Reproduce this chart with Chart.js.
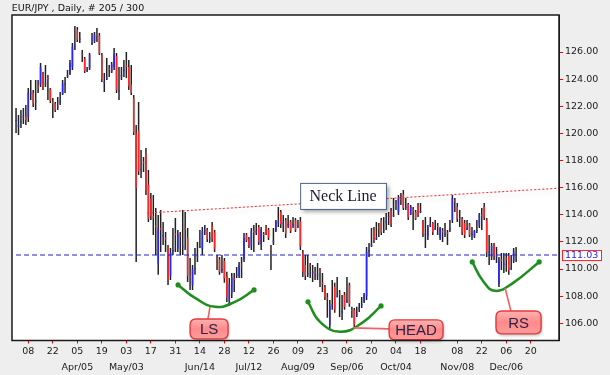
<!DOCTYPE html>
<html>
<head>
<meta charset="utf-8">
<script src="https://cdn.jsdelivr.net/npm/chart.js@4.4.1/dist/chart.umd.min.js"></script>
<style>
  html, body { margin: 0; padding: 0; background: #eeeeee; }
  #wrap { width: 610px; height: 375px; }
</style>
</head>
<body>
<div id="wrap"><canvas id="chart" width="610" height="375"></canvas></div>
<script>
// daily bars, EUR/JPY, index 0 = 1 Mar (trading days)
const highs = [
  121.87, 121.36, 121.72, 121.87, 122.09, 123.35, 123.93, 123.20, 123.93, 123.93,
  125.19, 124.52, 125.04, 124.30, 123.35, 122.61, 122.31, 122.68, 123.05, 123.93,
  124.16, 124.67, 125.41, 126.66, 127.91, 127.84, 127.47, 126.15, 125.63, 124.89,
  125.92, 127.40, 127.47, 127.77, 127.40, 125.92, 124.45, 125.56, 125.04, 125.26,
  126.29, 125.92, 124.89, 124.89, 125.41, 126.00, 125.41, 125.04, 122.83, 120.62,
  122.31, 118.78, 118.26, 118.92, 117.30, 115.61, 115.46, 114.50, 113.99, 114.35,
  113.47, 112.73, 111.77, 111.55, 113.03, 113.77, 112.88, 112.73, 114.35, 114.21,
  113.03, 110.82, 110.30, 111.55, 111.99, 112.88, 113.10, 113.25, 113.03, 112.73,
  113.47, 112.88, 111.04, 110.89, 111.04, 110.82, 109.79, 109.34, 109.71, 109.71,
  110.15, 110.52, 110.89, 112.66, 112.66, 112.37, 113.03, 113.25, 113.40, 113.25,
  113.10, 112.73, 113.25, 113.03, 111.77, 113.03, 113.62, 114.58, 114.35, 113.99,
  113.77, 113.99, 113.62, 113.84, 113.77, 113.62, 113.84, 111.41, 111.04, 111.04,
  110.45, 110.30, 110.15, 110.45, 110.08, 109.71, 108.83, 108.24, 107.72, 109.20,
  108.98, 109.42, 108.46, 108.09, 108.31, 109.42, 108.98, 107.21, 107.13, 107.21,
  107.50, 107.94, 108.24, 111.63, 111.92, 113.03, 113.10, 113.47, 113.40, 113.77,
  113.84, 114.13, 114.21, 114.50, 115.24, 115.09, 115.46, 115.61, 115.83, 115.24,
  114.87, 114.72, 114.58, 114.35, 114.87, 114.87, 113.62, 113.84, 113.25, 113.84,
  113.47, 113.62, 113.40, 113.10, 113.03, 113.40, 112.88, 113.62, 115.46, 115.24,
  114.87, 114.35, 113.84, 113.62, 113.62, 113.40, 113.10, 112.88, 113.62, 114.13,
  114.50, 114.87, 113.77, 112.51, 111.92, 111.92, 111.63, 110.89, 111.19, 111.19,
  111.19, 111.19, 111.04, 111.55, 111.63
];
const lows = [
  120.03, 119.88, 120.40, 120.69, 120.62, 120.84, 122.46, 121.95, 121.72, 122.98,
  123.42, 123.20, 123.42, 122.46, 122.24, 121.13, 121.58, 121.72, 122.09, 122.83,
  122.98, 124.08, 124.30, 124.67, 126.15, 126.74, 126.66, 125.26, 124.45, 124.52,
  124.67, 126.51, 126.66, 126.74, 125.78, 123.79, 123.05, 123.93, 124.16, 124.45,
  124.67, 122.98, 122.46, 123.93, 124.16, 124.08, 123.20, 122.83, 119.88, 110.52,
  116.93, 116.71, 117.15, 115.46, 113.47, 113.62, 112.51, 111.04, 109.57, 111.26,
  111.77, 111.26, 108.83, 109.20, 111.04, 111.26, 111.26, 111.04, 111.04, 111.41,
  109.05, 108.46, 108.46, 109.57, 110.52, 111.55, 111.04, 112.51, 111.99, 111.92,
  111.99, 111.26, 109.93, 109.57, 109.71, 108.98, 107.57, 107.28, 107.87, 108.31,
  109.34, 109.34, 109.34, 110.52, 111.99, 111.55, 111.41, 111.26, 112.51, 111.77,
  111.41, 111.99, 112.51, 112.14, 109.93, 111.77, 112.73, 113.10, 113.03, 112.73,
  112.29, 113.03, 112.66, 113.03, 112.73, 113.03, 111.41, 109.42, 109.20, 109.42,
  109.34, 109.05, 109.20, 109.20, 108.68, 108.31, 107.72, 106.40, 105.51, 106.99,
  106.77, 107.94, 106.47, 106.25, 106.99, 107.50, 107.21, 106.40, 105.66, 106.47,
  106.84, 107.13, 107.50, 107.72, 110.89, 111.63, 111.92, 112.14, 112.37, 112.51,
  112.66, 112.88, 113.25, 113.10, 113.84, 114.35, 113.99, 114.72, 114.35, 114.35,
  113.62, 113.99, 112.88, 113.62, 113.84, 114.13, 112.37, 111.55, 112.14, 113.10,
  112.51, 112.88, 112.51, 112.14, 111.99, 112.37, 111.77, 112.73, 113.40, 114.21,
  113.47, 113.10, 112.51, 112.29, 112.88, 112.37, 112.14, 112.29, 112.66, 113.03,
  112.88, 113.62, 110.89, 110.30, 110.67, 110.67, 110.45, 108.68, 109.93, 109.71,
  109.79, 109.57, 109.93, 110.45, 110.52
];
const opens = [
  120.9, 120.5, 120.8, 121.2, 121.3, 121.2, 122.9, 123.0, 122.3, 123.5,
  123.6, 124.4, 123.6, 124.1, 123.3, 122.3, 122.2, 121.9, 122.3, 122.9,
  123.6, 124.2, 124.4, 124.9, 126.4, 127.6, 126.9, 125.9, 125.5, 124.6,
  124.8, 126.6, 126.8, 127.3, 127.2, 125.8, 123.7, 124.0, 124.8, 124.5,
  124.9, 125.7, 123.1, 124.2, 124.6, 125.0, 124.9, 123.6, 122.6, 120.0,
  120.2, 117.3, 117.9, 118.5, 116.2, 115.2, 113.9, 113.2, 110.4, 113.0,
  112.4, 112.3, 111.6, 109.5, 111.3, 112.6, 111.5, 112.5, 111.6, 113.0,
  112.3, 109.5, 108.8, 110.0, 110.9, 111.6, 111.5, 112.8, 112.9, 112.2,
  113.2, 112.7, 110.8, 110.7, 109.9, 110.6, 109.5, 107.6, 108.2, 109.3,
  109.5, 109.5, 110.3, 110.7, 112.5, 112.2, 111.7, 112.8, 112.7, 113.1,
  111.8, 112.6, 113.1, 112.9, 111.5, 112.0, 112.8, 113.4, 114.2, 113.3,
  113.6, 113.2, 113.5, 113.2, 113.6, 113.1, 113.5, 111.2, 110.3, 109.6,
  110.3, 109.7, 109.8, 109.5, 109.9, 109.0, 108.7, 107.9, 105.9, 107.3,
  108.7, 107.9, 108.2, 106.8, 108.1, 107.6, 108.8, 107.0, 107.0, 106.6,
  107.0, 107.3, 107.6, 108.0, 111.3, 111.7, 112.9, 112.2, 113.1, 113.6,
  112.8, 113.4, 113.8, 114.3, 113.9, 114.8, 114.2, 115.2, 115.5, 114.5,
  114.8, 114.0, 114.4, 114.2, 114.7, 114.2, 113.5, 112.5, 112.4, 113.2,
  113.4, 112.9, 113.2, 112.3, 112.8, 112.5, 112.7, 112.9, 113.6, 115.1,
  114.6, 113.7, 113.7, 113.4, 112.9, 113.3, 112.5, 112.4, 112.8, 113.2,
  114.0, 114.6, 113.6, 111.2, 110.9, 111.8, 110.9, 108.9, 110.7, 110.3,
  110.8, 111.0, 110.0, 110.6, 111.1
];
const closes = [
  121.0, 120.6, 120.9, 121.3, 121.0, 123.0, 123.0, 122.2, 122.4, 123.4,
  124.9, 123.4, 123.7, 124.0, 122.4, 122.2, 121.7, 122.0, 122.4, 123.7,
  123.7, 124.3, 125.2, 126.4, 126.5, 126.9, 127.0, 125.8, 124.6, 124.7,
  125.8, 126.7, 127.3, 127.2, 125.9, 124.0, 123.8, 124.1, 124.7, 125.1,
  125.9, 123.2, 123.2, 124.3, 124.7, 124.9, 123.5, 123.0, 120.1, 116.0,
  117.2, 117.4, 117.8, 115.8, 113.7, 113.9, 113.8, 113.1, 113.0, 112.9,
  112.5, 112.2, 109.2, 111.2, 111.4, 112.5, 112.6, 112.4, 111.7, 112.9,
  109.5, 109.4, 110.0, 110.1, 111.0, 111.7, 112.8, 112.9, 112.2, 112.3,
  112.2, 111.5, 110.7, 109.8, 110.0, 109.3, 107.9, 108.9, 109.4, 109.2,
  109.6, 110.3, 110.2, 112.3, 112.1, 111.7, 112.8, 112.7, 112.8, 112.0,
  112.9, 112.5, 112.6, 112.3, 111.4, 112.1, 113.5, 113.5, 113.3, 113.4,
  112.6, 113.3, 112.8, 113.3, 112.9, 113.2, 111.7, 109.8, 109.5, 109.7,
  110.2, 109.8, 109.7, 109.6, 109.8, 108.9, 107.9, 107.8, 107.3, 107.4,
  107.0, 108.0, 108.1, 106.9, 107.2, 107.7, 107.4, 106.9, 105.9, 106.7,
  107.1, 107.4, 108.1, 111.3, 111.4, 111.8, 112.1, 112.3, 113.0, 112.7,
  112.9, 113.5, 113.9, 113.3, 114.0, 114.7, 115.2, 115.1, 114.5, 114.6,
  113.8, 114.6, 114.3, 113.7, 114.0, 114.3, 112.6, 112.6, 113.1, 113.3,
  112.7, 113.0, 113.1, 113.0, 112.7, 112.6, 112.6, 113.0, 115.2, 115.0,
  113.7, 113.8, 112.7, 112.5, 113.0, 112.5, 112.6, 112.8, 112.9, 114.0,
  113.9, 113.8, 111.2, 111.3, 111.7, 110.9, 111.0, 110.7, 110.6, 110.4,
  110.7, 109.9, 110.1, 111.3, 111.03
];

const tickIdx = [5, 15, 25, 35, 45, 55, 65, 75, 85, 95, 105, 115, 125, 135, 145, 155, 165, 180, 190, 200, 210];
const tickDays = ['08', '22', '05', '19', '03', '17', '31', '14', '28', '12', '26', '09', '23', '06', '20', '04', '18', '08', '22', '06', '20'];
const tickMonths = ['', '', 'Apr/05', '', 'May/03', '', '', 'Jun/14', '', 'Jul/12', '', 'Aug/09', '', 'Sep/06', '', 'Oct/04', '', 'Nov/08', '', 'Dec/06', ''];
const priceTicks = [106, 108, 110, 112, 114, 116, 118, 120, 122, 124, 126];
const lastPrice = 111.03;

// pattern annotations (bar index, price)
const neckLine = [{ x: 53.4, y: 114.13 }, { x: 221.5, y: 115.96 }];
const lsCurve = [{ x: 66.1, y: 108.83 }, { x: 73.0, y: 107.87 }, { x: 81.2, y: 107.21 }, { x: 89.3, y: 107.58 }, { x: 97.1, y: 108.46 }];
const headCurve = [{ x: 119.1, y: 107.58 }, { x: 124.0, y: 106.10 }, { x: 132.2, y: 105.37 }, { x: 141.2, y: 106.03 }, { x: 148.9, y: 107.28 }];
const rsCurve = [{ x: 186.1, y: 110.52 }, { x: 190.5, y: 109.12 }, { x: 195.4, y: 108.39 }, { x: 202.8, y: 108.98 }, { x: 213.4, y: 110.52 }];

const callouts = [
  { text: 'LS', box: [71.0, 106.32, 86.5, 104.85], from: [79.1, 107.21], to: [78.3, 106.32] },
  { text: 'HEAD', box: [152.2, 106.25, 174.2, 104.78], from: [137.5, 105.66], to: [152.2, 105.59] },
  { text: 'RS', box: [195.8, 106.91, 214.2, 105.22], from: [199.5, 108.61], to: [201.9, 106.91] }
];
const neckLabel = { text: 'Neck Line', box: [115.9, 116.35, 150.9, 114.43] };

const X_MIN = -1.65;
const X_MAX = 221.5;
const RED = '#ff2626';
const BLUE = '#2626ff';
const GREEN = '#1e8e1e';
const AXIS_FONT = { family: '"DejaVu Sans", sans-serif', size: 9.5 };

function roundRect(ctx, x, y, w, h, r) {
  ctx.beginPath();
  ctx.moveTo(x + r, y);
  ctx.lineTo(x + w - r, y);
  ctx.quadraticCurveTo(x + w, y, x + w, y + r);
  ctx.lineTo(x + w, y + h - r);
  ctx.quadraticCurveTo(x + w, y + h, x + w - r, y + h);
  ctx.lineTo(x + r, y + h);
  ctx.quadraticCurveTo(x, y + h, x, y + h - r);
  ctx.lineTo(x, y + r);
  ctx.quadraticCurveTo(x, y, x + r, y);
  ctx.closePath();
}

const backdrop = {
  id: 'backdrop',
  beforeDraw(chart) {
    const { ctx, chartArea: a } = chart;
    ctx.save();
    ctx.fillStyle = '#eeeeee';
    ctx.fillRect(0, 0, chart.width, chart.height);
    ctx.fillStyle = '#ffffff';
    ctx.fillRect(a.left, a.top, a.right - a.left, a.bottom - a.top);
    ctx.restore();
  },
  beforeDatasetDraw(chart, args) {
    if (args.meta.label !== 'neck') return;
    const ctx = chart.ctx;
    ctx.save();
    ctx.shadowColor = 'rgba(0,0,0,0.16)';
    ctx.shadowBlur = 4;
    ctx.shadowOffsetY = 4;
  },
  afterDatasetDraw(chart, args) {
    if (args.meta.label === 'neck') chart.ctx.restore();
  },
  afterDatasetsDraw(chart) {
    const { ctx } = chart;
    const xs = chart.scales.x, ys = chart.scales.y;
    const px = v => xs.getPixelForValue(v);
    const py = v => ys.getPixelForValue(v);
    ctx.save();

    // neck line label
    const nb = neckLabel.box;
    const nx = px(nb[0]), ny = py(nb[1]), nw = px(nb[2]) - nx, nh = py(nb[3]) - ny;
    ctx.save();
    ctx.shadowColor = 'rgba(0,0,0,0.35)';
    ctx.shadowBlur = 4;
    ctx.shadowOffsetX = 3;
    ctx.shadowOffsetY = 3;
    ctx.fillStyle = '#ffffff';
    ctx.fillRect(nx, ny, nw, nh);
    ctx.restore();
    ctx.strokeStyle = '#4f6484';
    ctx.lineWidth = 1;
    ctx.strokeRect(nx + 0.5, ny + 0.5, nw, nh);
    ctx.fillStyle = '#1a1a2e';
    ctx.font = '16px "Liberation Serif", serif';
    ctx.textAlign = 'center';
    ctx.textBaseline = 'middle';
    ctx.fillText(neckLabel.text, nx + nw / 2, ny + nh / 2 + 1);

    // pattern callouts
    callouts.forEach(c => {
      ctx.strokeStyle = '#f06060';
      ctx.lineWidth = 1.6;
      ctx.beginPath();
      ctx.moveTo(px(c.from[0]), py(c.from[1]));
      ctx.lineTo(px(c.to[0]), py(c.to[1]));
      ctx.stroke();

      const bx = px(c.box[0]), by = py(c.box[1]);
      const bw = px(c.box[2]) - bx, bh = py(c.box[3]) - by;
      ctx.save();
      ctx.shadowColor = 'rgba(0,0,0,0.25)';
      ctx.shadowBlur = 3;
      ctx.shadowOffsetX = 1;
      ctx.shadowOffsetY = 2;
      const g = ctx.createLinearGradient(0, by, 0, by + bh);
      g.addColorStop(0, '#ffb3b3');
      g.addColorStop(0.5, '#ff8a8a');
      g.addColorStop(1, '#ff9c9c');
      ctx.fillStyle = g;
      roundRect(ctx, bx, by, bw, bh, 6);
      ctx.fill();
      ctx.restore();
      ctx.strokeStyle = '#e23a3a';
      ctx.lineWidth = 1.4;
      roundRect(ctx, bx, by, bw, bh, 6);
      ctx.stroke();
      ctx.fillStyle = '#26264a';
      ctx.font = '15px "Liberation Sans", Arial, sans-serif';
      ctx.fillText(c.text, bx + bw / 2, by + bh / 2 + 1);
    });
    ctx.restore();
  },
  afterDraw(chart) {
    const { ctx, chartArea: a } = chart;
    const ys = chart.scales.y;
    ctx.save();
    ctx.strokeStyle = '#1a1a1a';
    ctx.lineWidth = 1.5;
    ctx.strokeRect(a.left, a.top, a.right - a.left, a.bottom - a.top);

    // last price tag
    const y = ys.getPixelForValue(lastPrice);
    ctx.fillStyle = '#ffffff';
    ctx.fillRect(a.right + 3, y - 5, 39, 10);
    ctx.strokeStyle = '#ff2020';
    ctx.lineWidth = 1;
    ctx.strokeRect(a.right + 3.5, y - 4.5, 39, 10);
    ctx.fillStyle = '#1f1fff';
    ctx.font = '9.5px "DejaVu Sans", sans-serif';
    ctx.textAlign = 'left';
    ctx.textBaseline = 'middle';
    ctx.fillText(lastPrice.toFixed(2), a.right + 6, y + 0.5);

    // title
    ctx.fillStyle = '#111111';
    ctx.textBaseline = 'alphabetic';
    ctx.fillText('EUR/JPY , Daily, # 205 / 300', 11.7, 11.3);
    ctx.restore();
  }
};

function buildDatasets() {
  const rangeData = highs.map((h, i) => ({ x: i, y: [lows[i], h] }));
  const bodyData = opens.map((o, i) => ({ x: i, y: [Math.min(o, closes[i]), Math.max(o, closes[i])] }));
  const bodyColors = opens.map((o, i) => (closes[i] < o ? RED : BLUE));
  const curve = (label, data) => ({
    type: 'line', label, data,
    borderColor: GREEN, borderWidth: 2.5, tension: 0.45,
    pointRadius: data.map((p, i) => (i === 0 || i === data.length - 1 ? 2.6 : 0)),
    pointBackgroundColor: GREEN, pointBorderWidth: 0, order: 0
  });
  return [
    { type: 'bar', label: 'range', data: rangeData, backgroundColor: '#222222', barThickness: 1.5, grouped: false, inflateAmount: 0, order: 4 },
    { type: 'bar', label: 'body', data: bodyData, backgroundColor: bodyColors, barThickness: 1.5, grouped: false, inflateAmount: 0, order: 3 },
    { type: 'line', label: 'last', data: [{ x: 0, y: lastPrice }, { x: X_MAX, y: lastPrice }], borderColor: '#2020c8', borderWidth: 1.1, borderDash: [5, 3], pointRadius: 0, order: 2 },
    { type: 'line', label: 'neck', data: neckLine, borderColor: '#ff3030', borderWidth: 1.1, borderDash: [2, 2], pointRadius: 0, order: 1 },
    curve('ls', lsCurve),
    curve('head', headCurve),
    curve('rs', rsCurve)
  ];
}

function renderChart() {
  const ctx = document.getElementById('chart');
  new Chart(ctx, {
    type: 'bar',
    data: { datasets: buildDatasets() },
    options: {
      responsive: false,
      animation: false,
      layout: { padding: { left: 12, top: 15, right: 0, bottom: 0 } },
      plugins: { legend: { display: false }, tooltip: { enabled: false } },
      scales: {
        x: {
          type: 'linear', min: X_MIN, max: X_MAX, offset: false,
          grid: { drawOnChartArea: false, offset: false, tickLength: 3, tickColor: '#ff0000', tickWidth: 1 },
          border: { display: true, color: '#1a1a1a', width: 1 },
          afterBuildTicks: s => { s.ticks = tickIdx.map(v => ({ value: v })); },
          afterFit: s => { s.height = 34.5; },
          ticks: {
            autoSkip: false, maxRotation: 0, padding: 0.5, color: '#1a1a1a',
            font: Object.assign({ lineHeight: '15.5px' }, AXIS_FONT),
            callback: (v, i) => (tickMonths[i] ? [tickDays[i], tickMonths[i]] : tickDays[i])
          }
        },
        y: {
          position: 'right', min: 104.73, max: 128.73,
          grid: { drawOnChartArea: false, tickLength: 4, tickColor: '#ff0000', tickWidth: 1 },
          border: { display: true, color: '#1a1a1a', width: 1 },
          afterBuildTicks: s => { s.ticks = priceTicks.map(v => ({ value: v })); },
          afterFit: s => { s.width = 51; },
          ticks: { padding: 2, color: '#1a1a1a', font: AXIS_FONT, callback: v => Number(v).toFixed(2) }
        }
      }
    },
    plugins: [backdrop]
  });
}

window.addEventListener('DOMContentLoaded', renderChart);
</script>
</body>
</html>
